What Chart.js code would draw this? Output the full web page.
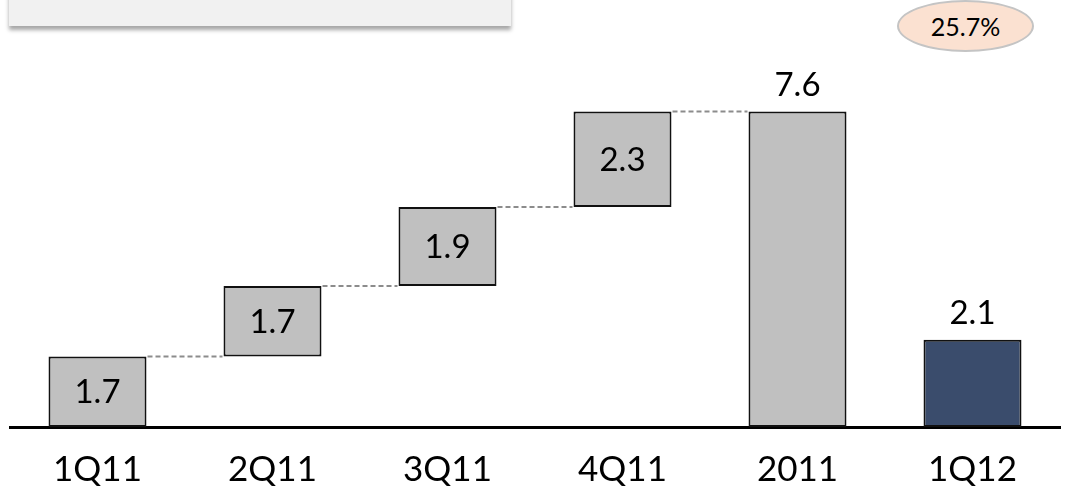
<!DOCTYPE html>
<html>
<head>
<meta charset="utf-8">
<script src="https://cdn.jsdelivr.net/npm/chart.js@4.4.1/dist/chart.umd.min.js"></script>
<style>
  html, body { margin: 0; padding: 0; background: #ffffff; }
  #wrap { position: relative; width: 1074px; height: 486px; overflow: hidden; }
  #chart { position: absolute; left: 0; top: 0; }
  .title-box {
    position: absolute; left: 9px; top: -20px; width: 502px; height: 46px;
    background: #f1f1f1; box-shadow: 0 4px 4px rgba(0,0,0,0.35);
  }
  .badge {
    position: absolute; left: 897px; top: 0px; width: 137px; height: 52px;
    box-sizing: border-box; border: 2px solid #c4c4c4; border-radius: 50%;
    background: #fbe1d1; font-family: Lato, "Open Sans", sans-serif;
    font-size: 25px; color: #000; display: flex; align-items: center; justify-content: center;
  }
</style>
</head>
<body>
<div id="wrap">
  <canvas id="chart" width="1074" height="486"></canvas>
  <div class="title-box"></div>
  <div class="badge">25.7%</div>
</div>
<script>
// Quarterly net results and annual totals
const categories = ['1Q11', '2Q11', '3Q11', '4Q11', '2011', '1Q12'];
const values = [1.7, 1.7, 1.9, 2.3, 7.6, 2.1];
const kinds = ['step', 'step', 'step', 'step', 'total', 'total'];
const barColors = ['#c0c0c0', '#c0c0c0', '#c0c0c0', '#c0c0c0', '#c0c0c0', '#3a4c6c'];

// Build waterfall ranges: steps stack on the running sum, totals start at zero
const ranges = [];
let running = 0;
values.forEach((v, i) => {
  if (kinds[i] === 'step') {
    ranges.push([running, +(running + v).toFixed(2)]);
    running = +(running + v).toFixed(2);
  } else {
    ranges.push([0, v]);
  }
});

const FONT = 'Lato, "Open Sans", sans-serif';

const waterfallDecor = {
  id: 'waterfallDecor',
  afterDatasetsDraw(chart) {
    const ctx = chart.ctx;
    const meta = chart.getDatasetMeta(0);
    const y = chart.scales.y;
    // dashed connectors between consecutive bars
    ctx.save();
    ctx.strokeStyle = '#8c8c8c';
    ctx.lineWidth = 2;
    ctx.setLineDash([5, 3]);
    for (let i = 0; i < values.length - 1; i++) {
      if (kinds[i] !== 'step') continue;
      const a = meta.data[i], b = meta.data[i + 1];
      const level = y.getPixelForValue(ranges[i][1]);
      ctx.beginPath();
      ctx.moveTo(a.x + a.width / 2 + 1, level);
      ctx.lineTo(b.x - b.width / 2 - 1, level);
      ctx.stroke();
    }
    ctx.restore();

    // value labels
    ctx.save();
    ctx.fillStyle = '#000';
    ctx.font = '33px ' + FONT;
    ctx.textAlign = 'center';
    ctx.textBaseline = 'middle';
    values.forEach((v, i) => {
      const bar = meta.data[i];
      if (kinds[i] === 'step') {
        const mid = y.getPixelForValue((ranges[i][0] + ranges[i][1]) / 2);
        ctx.fillText(v.toFixed(1), bar.x, mid + 1);
      } else {
        ctx.fillText(v.toFixed(1), bar.x, y.getPixelForValue(ranges[i][1]) - 26);
      }
    });
    ctx.restore();
  }
};

new Chart(document.getElementById('chart'), {
  type: 'bar',
  data: {
    labels: categories,
    datasets: [{
      data: ranges,
      backgroundColor: barColors,
      borderColor: '#111111',
      borderWidth: 2,
      borderSkipped: false,
      categoryPercentage: 1,
      barPercentage: 0.56
    }]
  },
  options: {
    responsive: false,
    animation: false,
    devicePixelRatio: 1,
    layout: { padding: { top: 12, left: 10, right: 14, bottom: 0 } },
    plugins: { legend: { display: false }, tooltip: { enabled: false } },
    scales: {
      x: {
        grid: { display: false, drawTicks: false },
        border: { display: true, color: '#000', width: 3 },
        ticks: { color: '#000', font: { family: FONT, size: 35 }, padding: 22, maxRotation: 0 },
        afterFit(scale) { scale.height = 59; }
      },
      y: { display: false, min: 0, max: 10 }
    }
  },
  plugins: [waterfallDecor]
});
</script>
</body>
</html>
